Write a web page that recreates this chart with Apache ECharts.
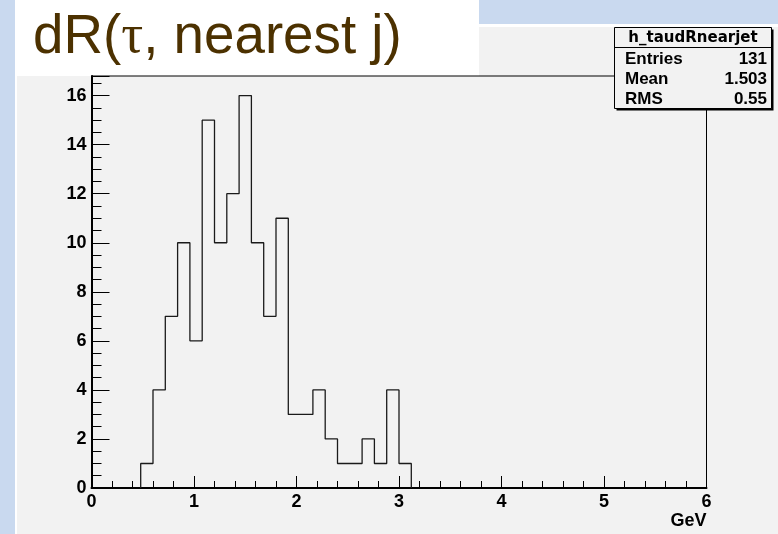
<!DOCTYPE html>
<html>
<head>
<meta charset="utf-8">
<script src="https://cdn.jsdelivr.net/npm/echarts@6/dist/echarts.min.js"></script>
<style>
html,body{margin:0;padding:0;background:#c9d9ef;}
#chart{width:778px;height:534px;}
</style>
</head>
<body>
<div id="chart"></div>
<script>
// ---- data ----
var binLow = [0.48,0.60,0.72,0.84,0.96,1.08,1.20,1.32,1.44,1.56,1.68,1.80,1.92,2.04,2.16,2.28,2.40,2.52,2.64,2.76,2.88,3.00];
var counts = [1,4,7,10,6,15,10,12,16,10,7,11,3,3,4,2,1,1,2,1,4,1];
var histEnd = 3.12;
var xTicks = [0,1,2,3,4,5,6];
var yTicks = [0,2,4,6,8,10,12,14,16];
var titlePre = 'dR(';
var titleTau = '\u03c4';
var titlePost = ', nearest j)';
var statsName = 'h_taudRnearjet';
var statsLabels = ['Entries','Mean','RMS'];
var statsValues = ['131','1.503','0.55'];
var xName = 'GeV';

// build step outline
var stepData = [[binLow[0], 0]];
for (var i = 0; i < binLow.length; i++) stepData.push([binLow[i], counts[i]]);
stepData.push([histEnd, 0]);

var chart = echarts.init(document.getElementById('chart'), null, {renderer:'canvas'});
var labelFont = {fontFamily:'Liberation Sans', fontWeight:'bold', fontSize:18, color:'#000'};

var statsGraphics = [];
var rowsY = [59, 79, 99];
statsGraphics.push({type:'rect', shape:{x:616.5,y:29.5,width:157,height:81}, style:{fill:'#000'}, z:100});
statsGraphics.push({type:'rect', shape:{x:614.5,y:27.5,width:157,height:81}, style:{fill:'#f2f2f2',stroke:'#000',lineWidth:1}, z:101});
statsGraphics.push({type:'line', shape:{x1:614.5,y1:47.5,x2:771.5,y2:47.5}, style:{stroke:'#000',lineWidth:1}, z:102});
statsGraphics.push({type:'text', x:693, y:38, style:{text:statsName, align:'center', verticalAlign:'middle', font:'bold 15px "DejaVu Sans"', fill:'#000'}, z:103});
for (var k = 0; k < statsLabels.length; k++) {
  statsGraphics.push({type:'text', x:625, y:rowsY[k], style:{text:statsLabels[k], align:'left', verticalAlign:'middle', font:'bold 17px "Liberation Sans"', fill:'#000'}, z:103});
  statsGraphics.push({type:'text', x:767, y:rowsY[k], style:{text:statsValues[k], align:'right', verticalAlign:'middle', font:'bold 17px "Liberation Sans"', fill:'#000'}, z:103});
}

var option = {
  animation:false,
  backgroundColor:'transparent',
  graphic:[
    {type:'rect', shape:{x:15,y:24,width:763,height:510}, style:{fill:'#ffffff'}, z:-10, silent:true},
    {type:'rect', shape:{x:17,y:27,width:761,height:507}, style:{fill:'#f2f2f2'}, z:-9, silent:true},
    {type:'rect', shape:{x:15,y:0,width:464,height:76}, style:{fill:'#ffffff'}, z:-8, silent:true},
    {type:'text', x:33, y:38, scaleX:0.995, style:{
      text:'{a|' + titlePre + '}{t|' + titleTau + '}{a|' + titlePost + '}',
      align:'left', verticalAlign:'middle',
      rich:{
        a:{fontFamily:'Liberation Sans', fontSize:55, fill:'#4c3100', color:'#4c3100'},
        t:{fontFamily:'Liberation Serif', fontSize:55, fill:'#4c3100', color:'#4c3100'}
      }
    }, z:5}
  ].concat(statsGraphics),
  grid:{left:91.5, right:71.5, top:76, bottom:46, show:true, borderColor:'#000', borderWidth:1, backgroundColor:'transparent', containLabel:false},
  xAxis:[{
    type:'value', min:xTicks[0], max:xTicks[xTicks.length-1], interval:1,
    axisLine:{show:true, onZero:false, lineStyle:{color:'#000', width:2}},
    axisTick:{show:true, inside:true, length:12, lineStyle:{color:'#000', width:1}},
    minorTick:{show:true, splitNumber:5, length:7, lineStyle:{color:'#000', width:1}},
    splitLine:{show:false},
    axisLabel:Object.assign({margin:5}, labelFont),
    name:xName, nameLocation:'end', nameGap:0,
    nameTextStyle:{fontFamily:'Liberation Sans', fontWeight:'bold', fontSize:18, color:'#000', align:'right', verticalAlign:'top', padding:[24,0,0,0]}
  }],
  yAxis:[{
    type:'value', min:yTicks[0], max:16.8, interval:2,
    axisLine:{show:true, onZero:false, lineStyle:{color:'#000', width:2}},
    axisTick:{show:true, inside:true, length:18, lineStyle:{color:'#000', width:1}},
    minorTick:{show:true, splitNumber:4, length:10, lineStyle:{color:'#000', width:1}},
    splitLine:{show:false},
    axisLabel:Object.assign({margin:5, showMaxLabel:false, formatter:function(v){return yTicks.indexOf(v)>=0 ? String(v) : '';}}, labelFont)
  }],
  series:[{
    type:'line', step:'end', xAxisIndex:0, yAxisIndex:0,
    data:stepData, showSymbol:false, symbol:'none',
    lineStyle:{color:'#1a1a1a', width:1.3},
    z:3
  }]
};
chart.setOption(option);
</script>
</body>
</html>
